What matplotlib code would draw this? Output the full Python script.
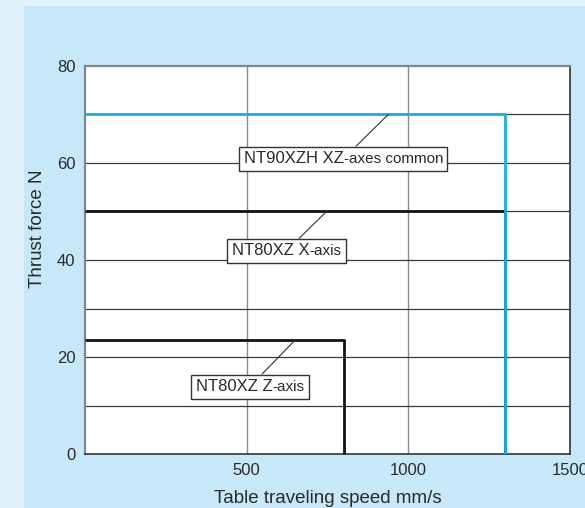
import matplotlib
matplotlib.use("Agg")
import matplotlib.pyplot as plt
from matplotlib.patches import Rectangle
from matplotlib.offsetbox import TextArea, HPacker, AnnotationBbox

plt.rcParams['font.family'] = ['Liberation Sans', 'DejaVu Sans']

# ---- data ----
series_main = ["NT90XZH XZ", "NT80XZ X", "NT80XZ Z"]
series_suffix = ["-axes common", "-axis", "-axis"]
thrust_force = [70, 50, 23.5]          # N
max_speed = [1300, 1300, 800]          # mm/s
x_ticks = [500, 1000, 1500]
y_ticks = [0, 20, 40, 60, 80]
x_label = "Table traveling speed mm/s"
y_label = "Thrust force N"

# ---- layout / style ----
colors = ["#1aaee6", "#111111", "#111111"]
leader_x = [938, 747, 650]             # where leader touches the line
box_center = [(799, 60.9), (623, 41.9), (510, 13.9)]
draw_order = [1, 2, 0]
txt = "#2a2a2a"

fig = plt.figure(figsize=(5.85, 5.08), dpi=100)
fig.patch.set_facecolor("#e2f2fb")
fig.patches.append(Rectangle((24/585, 0), 1, 1 - 6/508, transform=fig.transFigure,
                             facecolor="#c7e8f8", edgecolor="none", zorder=-10))

ax = fig.add_axes([85/585, 54/508, (570-85)/585, (454-66)/508])
ax.set_zorder(5)
ax.set_facecolor("white")
ax.set_xlim(0, 1500)
ax.set_ylim(0, 80)

ax.set_xticks(x_ticks)
ax.set_yticks(y_ticks)
ax.set_yticks([10, 30, 50, 70], minor=True)
ax.tick_params(axis='both', which='both', length=0, labelsize=12, colors=txt)
ax.tick_params(axis='y', pad=7)
ax.tick_params(axis='x', pad=6.5)

# grid
for v in [500, 1000]:
    ax.axvline(v, color="#8c8c8c", lw=1.0, zorder=1)
for h in range(10, 80, 10):
    ax.axhline(h, color="#3a3a3a", lw=0.9, zorder=1)

for s in ["left", "top"]:
    ax.spines[s].set_color("#7d8790")
    ax.spines[s].set_linewidth(1.6)
for s in ["right", "bottom"]:
    ax.spines[s].set_color("#333333")
    ax.spines[s].set_linewidth(1.2)

for i in draw_order:
    ax.plot([0, max_speed[i], max_speed[i]], [thrust_force[i], thrust_force[i], 0],
            color=colors[i], lw=2.0, zorder=3 + (i == 0), solid_capstyle='butt',
            clip_on=False)

for i in range(3):
    t1 = TextArea(series_main[i], textprops=dict(fontsize=12, color=txt))
    t2 = TextArea(series_suffix[i], textprops=dict(fontsize=11, color=txt))
    pack = HPacker(children=[t1, t2], align="baseline", pad=0, sep=0)
    ab = AnnotationBbox(pack, xy=(leader_x[i], thrust_force[i]), xybox=box_center[i],
                        xycoords='data', boxcoords='data', box_alignment=(0.5, 0.5),
                        pad=0.32,
                        bboxprops=dict(edgecolor="#333333", lw=1.0, facecolor="white"),
                        arrowprops=dict(arrowstyle='-', color="#333333", lw=0.8,
                                        shrinkA=0, shrinkB=0),
                        zorder=6)
    ax.add_artist(ab)

ax.set_xlabel(x_label, fontsize=13.5, color=txt)
ax.xaxis.set_label_coords(0.5, -(503 - 454) / 388, transform=ax.transAxes)
ax.xaxis.label.set_va('baseline')
ax.set_ylabel(y_label, fontsize=13.5, color=txt)
ax.yaxis.set_label_coords(-(85 - 46) / 485, (454 - 229) / 388)

fig.savefig("out.png", dpi=100, facecolor=fig.get_facecolor())
